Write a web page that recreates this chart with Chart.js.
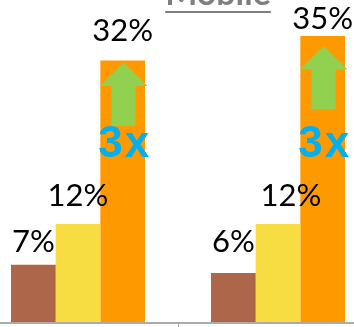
<!DOCTYPE html>
<html>
<head>
<meta charset="utf-8">
<script src="https://cdn.jsdelivr.net/npm/chart.js@4/dist/chart.umd.min.js"></script>
<style>
  html, body { margin: 0; padding: 0; overflow: hidden; background: #fff; }
  #wrap { position: relative; width: 354px; height: 327px; overflow: hidden; }
  #mobileChart { position: absolute; left: -22px; top: 0; }
</style>
</head>
<body>
<div id="wrap">
  <canvas id="mobileChart" width="400" height="327"></canvas>
</div>
<script>
const categories = ['Segment A', 'Segment B'];
const seriesNames = ['Low', 'Mid', 'High'];
const lowValues = [7, 6];
const midValues = [12, 12];
const highValues = [32, 35];
const growthLabels = ['3x', '3x'];
const chartTitle = 'Mobile';

const colors = ['#ad664a', '#f7dc42', '#ff9900'];

// how far above each bar top the value label sits (px), per series
const labelGap = [[13, 21], [18, 18], [19, 7]];
const labelShift = [[0, 0], [0, 13], [0, 0]];
// how far below the orange bar top the green arrow starts (px)
const arrowDrop = [2, 10];

const overlay = {
    id: 'overlay',
    afterDatasetsDraw(chart) {
        const ctx = chart.ctx;
        const area = chart.chartArea;
        const x = chart.scales.x;

        ctx.save();

        // baseline and the tick between the two groups
        ctx.fillStyle = '#ababab';
        ctx.fillRect(0, area.bottom, chart.width, 2);
        const mid = (x.getPixelForValue(0) + x.getPixelForValue(1)) / 2;
        ctx.fillRect(Math.round(mid), area.bottom + 2, 1, 4);

        // value labels
        ctx.fillStyle = '#000';
        ctx.font = '31px Lato';
        ctx.textAlign = 'center';
        ctx.textBaseline = 'alphabetic';
        chart.data.datasets.forEach((ds, d) => {
            chart.getDatasetMeta(d).data.forEach((bar, i) => {
                ctx.fillText(ds.data[i] + '%', bar.x + labelShift[d][i], bar.y - labelGap[d][i]);
            });
        });

        // green arrows and growth text on the tallest bars
        chart.getDatasetMeta(2).data.forEach((bar, i) => {
            const cx = bar.x + 1;
            const top = bar.y + arrowDrop[i];
            ctx.fillStyle = '#92d050';
            ctx.beginPath();
            ctx.moveTo(cx, top);
            ctx.lineTo(cx + 24, top + 23.5);
            ctx.lineTo(cx + 12, top + 23.5);
            ctx.lineTo(cx + 12, top + 63.5);
            ctx.lineTo(cx - 12, top + 63.5);
            ctx.lineTo(cx - 12, top + 23.5);
            ctx.lineTo(cx - 24, top + 23.5);
            ctx.closePath();
            ctx.fill();

            ctx.fillStyle = '#00b0f0';
            ctx.font = 'bold 44px "Liberation Sans"';
            ctx.textAlign = 'left';
            const t = growthLabels[i];
            const w0 = ctx.measureText(t[0]).width;
            const w1 = ctx.measureText(t.slice(1)).width;
            const gap = 2;
            const left = cx - (w0 + gap + w1) / 2;
            ctx.fillText(t[0], left, area.bottom - 165);
            ctx.fillText(t.slice(1), left + w0 + gap, area.bottom - 165);
        });

        // underlined title, mostly above the visible area
        ctx.fillStyle = '#7f7f7f';
        ctx.font = 'bold 34px Lato';
        ctx.textAlign = 'center';
        const tx = 218 + 22;
        ctx.fillText(chartTitle, tx, 5);
        const tw = ctx.measureText(chartTitle).width;
        ctx.fillRect(tx - tw / 2, 11, tw, 2);

        ctx.restore();
    }
};

new Chart(document.getElementById('mobileChart'), {
    type: 'bar',
    data: {
        labels: categories,
        datasets: [
            { label: seriesNames[0], data: lowValues, backgroundColor: colors[0] },
            { label: seriesNames[1], data: midValues, backgroundColor: colors[1] },
            { label: seriesNames[2], data: highValues, backgroundColor: colors[2] }
        ]
    },
    options: {
        responsive: false,
        animation: false,
        devicePixelRatio: 1,
        layout: { padding: { left: 0, right: 0, top: 0, bottom: 5 } },
        datasets: {
            bar: { categoryPercentage: 0.67, barPercentage: 1, borderWidth: 0 }
        },
        plugins: {
            legend: { display: false },
            tooltip: { enabled: false }
        },
        scales: {
            x: { display: false },
            y: { display: false, min: 0, max: 39.4 }
        }
    },
    plugins: [overlay]
});
</script>
</body>
</html>
